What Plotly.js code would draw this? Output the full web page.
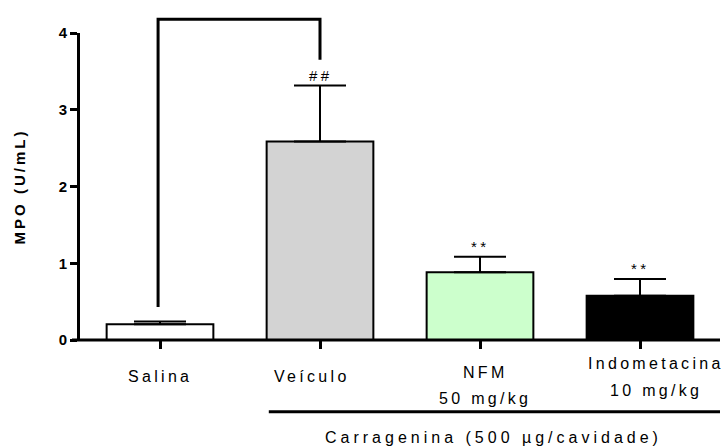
<!DOCTYPE html>
<html>
<head>
<meta charset="utf-8">
<script src="https://cdn.plot.ly/plotly-3.0.1.min.js"></script>
<style>
  html, body { margin: 0; padding: 0; background: #fff; }
  #chart { width: 724px; height: 446px; }
  .annotation-text { letter-spacing: 3.3px; }
  .ytitle { letter-spacing: 3px; }
</style>
</head>
<body>
<div id="chart"></div>
<script>
// ---- data ----
var categories = ['Salina', 'Veículo', 'NFM', 'Indometacina'];
var labelLine1 = ['Salina', 'Veículo', 'NFM', 'Indometacina'];
var labelLine2 = ['', '', '50 mg/kg', '10 mg/kg'];
var mpoMean = [0.205, 2.585, 0.883, 0.578];
var mpoSem = [0.035, 0.73, 0.203, 0.217];
var barColors = ['#ffffff', '#d3d3d3', '#ccffcc', '#000000'];
var significance = ['', '##', '**', '**'];
var bracketY = [0.43, 4.18, 3.65];   // left foot, top, right foot (Salina -> Veículo)
var yTicks = [0, 1, 2, 3, 4];
var groupLabel = 'Carragenina (500 µg/cavidade)';

var FONT = 'Arial, "Liberation Sans", sans-serif';
var xRange = [-0.5, 3.5];
var yRange = [0, 4];
function paperX(i) { return (i - xRange[0]) / (xRange[1] - xRange[0]); }
function paperY(v) { return (v - yRange[0]) / (yRange[1] - yRange[0]); }

var bars = {
  type: 'bar',
  x: categories,
  y: mpoMean,
  width: 0.667,
  marker: { color: barColors, line: { color: '#000', width: 2 } },
  error_y: {
    type: 'data', symmetric: false, array: mpoSem,
    arrayminus: mpoSem.map(function () { return 0; }),
    color: '#000', thickness: 2, width: 26
  },
  hoverinfo: 'skip',
  showlegend: false
};

// label placement (pixels) relative to each category tick
var labelXShift = [0, -8, 5, 16];
var line1Shift = [-36, -36, -32, -23];
var line2Shift = [0, 0, -58, -50];

var annotations = [];
categories.forEach(function (c, i) {
  annotations.push({
    x: c, xref: 'x', y: 0, yref: 'paper',
    text: labelLine1[i], showarrow: false,
    xanchor: 'center', yanchor: 'middle',
    xshift: labelXShift[i], yshift: line1Shift[i],
    font: { family: FONT, size: 16, color: '#000' }
  });
  if (labelLine2[i]) {
    annotations.push({
      x: c, xref: 'x', y: 0, yref: 'paper',
      text: labelLine2[i], showarrow: false,
      xanchor: 'center', yanchor: 'middle',
      xshift: labelXShift[i], yshift: line2Shift[i],
      font: { family: FONT, size: 16, color: '#000' }
    });
  }
  if (significance[i]) {
    annotations.push({
      x: c, xref: 'x', y: mpoMean[i] + mpoSem[i], yref: 'y',
      text: significance[i], showarrow: false,
      xanchor: 'center', yanchor: 'bottom', yshift: 0,
      font: { family: FONT, size: 15, color: '#000' }
    });
  }
});
annotations.push({
  x: 0.646, xref: 'paper', y: -0.316, yref: 'paper',
  text: '<span style="letter-spacing:4px">' + groupLabel + '</span>',
  showarrow: false, xanchor: 'center', yanchor: 'middle',
  font: { family: FONT, size: 16, color: '#000' }
});

var bx0 = paperX(0) - 0.003, bx1 = paperX(1);
var bracketPath = 'M' + bx0 + ',' + paperY(bracketY[0]) +
  ' L' + bx0 + ',' + paperY(bracketY[1]) +
  ' L' + bx1 + ',' + paperY(bracketY[1]) +
  ' L' + bx1 + ',' + paperY(bracketY[2]);

var layout = {
  width: 724, height: 446,
  margin: { l: 80, r: 4, t: 33, b: 106 },
  paper_bgcolor: '#fff', plot_bgcolor: '#fff',
  xaxis: {
    type: 'category', categoryarray: categories, range: xRange,
    showline: false, zeroline: false, showgrid: false,
    ticks: 'outside', ticklen: 8, tickwidth: 3, tickcolor: '#000',
    showticklabels: false
  },
  yaxis: {
    range: yRange, tickvals: yTicks, ticktext: yTicks.map(String),
    showline: true, linewidth: 3, linecolor: '#000',
    zeroline: false, showgrid: false,
    ticks: 'outside', ticklen: 7, tickwidth: 3, tickcolor: '#000',
    tickfont: { family: FONT, size: 15, color: '#000', weight: 'bold' },
    title: { text: 'MPO (U/mL)', standoff: 30,
             font: { family: FONT, size: 15, color: '#000', weight: 'bold' } }
  },
  shapes: [
    { type: 'line', xref: 'paper', yref: 'paper', x0: -0.0125, x1: 1, y0: 0, y1: 0,
      line: { color: '#000', width: 3 } },
    { type: 'line', xref: 'paper', yref: 'paper', x0: paperX(0.68), x1: 1, y0: -0.2336, y1: -0.2336,
      line: { color: '#000', width: 3 } },
    { type: 'path', xref: 'paper', yref: 'paper', path: bracketPath,
      line: { color: '#000', width: 3 } }
  ],
  annotations: annotations
};

Plotly.newPlot('chart', [bars], layout, { staticPlot: true, displayModeBar: false });
</script>
</body>
</html>
